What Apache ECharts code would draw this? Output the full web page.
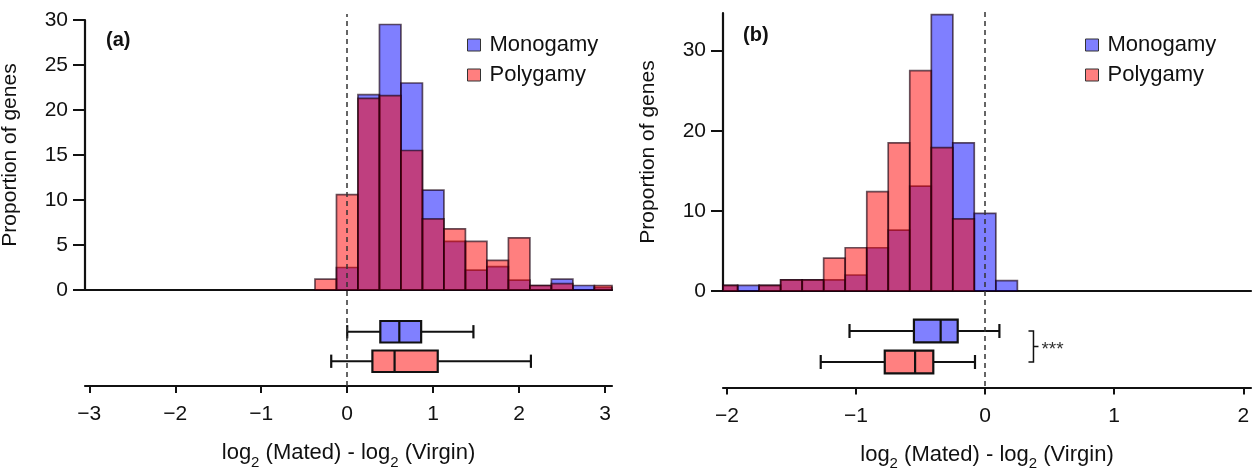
<!DOCTYPE html>
<html>
<head>
<meta charset="utf-8">
<script src="https://cdn.jsdelivr.net/npm/echarts@6/dist/echarts.min.js"></script>
<style>
html, body { margin: 0; padding: 0; background: #fff; }
#chart { width: 1254px; height: 469px; }
</style>
</head>
<body>
<div id="chart"></div>
<script>
// (a) histogram: bin centres (bin width 0.25), % of genes
const binsA = [-0.25, 0, 0.25, 0.5, 0.75, 1.0, 1.25, 1.5, 1.75, 2.0, 2.25, 2.5, 2.75, 3.0]
const monoA = [0, 2.5, 21.7, 29.5, 23.0, 11.1, 5.4, 2.2, 2.6, 1.1, 0.5, 1.2, 0.5, 0.3]
const polyA = [1.2, 10.6, 21.3, 21.6, 15.5, 7.9, 6.8, 5.4, 3.3, 5.8, 0.5, 0.7, 0, 0.5]
const binWidthA = 0.25

// (b) histogram: bin centres (bin width 1/6)
const binsB = [-2.0, -1.833, -1.667, -1.5, -1.333, -1.167, -1.0, -0.833, -0.667, -0.5, -0.333, -0.167, 0, 0.167]
const monoB = [0.7, 0.7, 0.7, 1.4, 1.4, 1.4, 2.0, 5.4, 7.6, 13.1, 34.5, 18.5, 9.7, 1.3]
const polyB = [0.7, 0, 0.7, 1.4, 1.4, 4.1, 5.4, 12.4, 18.5, 27.5, 17.9, 9.0, 0, 0]
const binWidthB = 1 / 6

// box plots: [lower whisker, q1, median, q3, upper whisker]
const boxGroups = ['Polygamy', 'Monogamy']
const boxMonoA = [0.0, 0.385, 0.606, 0.86, 1.468]
const boxPolyA = [-0.186, 0.293, 0.551, 1.053, 2.137]
const boxMonoB = [-1.05, -0.551, -0.344, -0.212, 0.111]
const boxPolyB = [-1.273, -0.777, -0.542, -0.401, -0.078]

const ticksA = [-3, -2, -1, 0, 1, 2, 3]
const ticksB = [-2, -1, 0, 1, 2]

const FONT = '"Liberation Sans", Arial, Helvetica, sans-serif'
const INK = '#111'
const MONO = 'rgba(0, 0, 255, 0.5)'
const POLY = 'rgba(255, 0, 0, 0.5)'

const chart = echarts.init(document.getElementById('chart'))

const histItem = (width) => (params, api) => {
  const x = api.value(0)
  const y = api.value(1)
  if (!y) return null
  const p0 = api.coord([x - width / 2, y])
  const p1 = api.coord([x + width / 2, 0])
  const cs = params.coordSys
  const rect = echarts.graphic.clipRectByRect(
    { x: p0[0], y: p0[1], width: p1[0] - p0[0], height: p1[1] - p0[1] },
    { x: cs.x, y: cs.y, width: cs.width, height: cs.height }
  )
  if (!rect) return null
  return {
    type: 'rect',
    shape: rect,
    style: { fill: api.visual('color'), stroke: 'rgba(25, 0, 15, 0.65)', lineWidth: 1.7 }
  }
}

const boxItem = (params, api) => {
  const cat = api.value(5)
  const band = api.size([0, 1])[1]
  const h = band * 0.73
  const cap = band * 0.45
  const p = [0, 1, 2, 3, 4].map(i => api.coord([api.value(i), cat]))
  const y = p[0][1]
  const ln = { stroke: INK, lineWidth: 2.2 }
  return {
    type: 'group',
    children: [
      { type: 'line', shape: { x1: p[0][0], y1: y, x2: p[1][0], y2: y }, style: ln },
      { type: 'line', shape: { x1: p[3][0], y1: y, x2: p[4][0], y2: y }, style: ln },
      { type: 'line', shape: { x1: p[0][0], y1: y - cap / 2, x2: p[0][0], y2: y + cap / 2 }, style: ln },
      { type: 'line', shape: { x1: p[4][0], y1: y - cap / 2, x2: p[4][0], y2: y + cap / 2 }, style: ln },
      {
        type: 'rect',
        shape: { x: p[1][0], y: y - h / 2, width: p[3][0] - p[1][0], height: h },
        style: { fill: api.visual('color'), stroke: INK, lineWidth: 2.2 }
      },
      { type: 'line', shape: { x1: p[2][0], y1: y - h / 2, x2: p[2][0], y2: y + h / 2 }, style: ln }
    ]
  }
}

// significance bracket between the two boxes of panel (b)
const bracketItem = (params, api) => {
  const top = api.coord([api.value(0), 1])
  const bot = api.coord([api.value(0), 0])
  const x = top[0]
  const mid = (top[1] + bot[1]) / 2
  const ln = { stroke: INK, lineWidth: 1.5, fill: null }
  return {
    type: 'group',
    children: [
      { type: 'polyline', shape: { points: [[x - 5, top[1]], [x, top[1]], [x, bot[1]], [x - 5, bot[1]]] }, style: ln },
      { type: 'line', shape: { x1: x, y1: mid, x2: x + 5, y2: mid }, style: ln },
      {
        type: 'text',
        style: { text: '***', x: x + 8, y: mid + 3, verticalAlign: 'middle', fill: '#333', font: '19px ' + FONT }
      }
    ]
  }
}

const toPairs = (bins, vals) => bins.map((b, i) => [b, vals[i]])
const boxRow = (vals, group) => [...vals, boxGroups.indexOf(group)]
const minus = v => (v < 0 ? '\u2212' + Math.abs(v) : String(v))

const xName = '{n|log}{s|2}{n| (Mated) - log}{s|2}{n| (Virgin)}'
const xNameStyle = {
  color: INK,
  fontFamily: FONT,
  fontSize: 22,
  rich: {
    n: { fontSize: 22, fontFamily: FONT, color: INK, verticalAlign: 'top', lineHeight: 28 },
    s: { fontSize: 15, fontFamily: FONT, color: INK, verticalAlign: 'bottom', lineHeight: 28, padding: [11, 0, 0, 0] }
  }
}

const panels = [
  { left: 85, width: 527, xmin: -3.05, xmax: 3.08, histTop: 20, histH: 270, ymax: 30, yTicks: [0, 5, 10, 15, 20, 25, 30], boxTop: 317, boxH: 59, ticks: ticksA, overlayTop: 14 },
  { left: 723, width: 528, xmin: -2.03, xmax: 2.06, histTop: 13, histH: 278, ymax: 34.7, yTicks: [0, 10, 20, 30], boxTop: 315.5, boxH: 62, ticks: ticksB, overlayTop: 12 }
]

// v6 grids shrink to keep labels inside by default; keep exact placement instead
const gridBase = { containLabel: false, outerBoundsMode: 'none' }

const grid = []
const xAxis = []
const yAxis = []
panels.forEach((p, k) => {
  // histogram grid
  grid.push({ ...gridBase, left: p.left, width: p.width, top: p.histTop, height: p.histH })
  xAxis.push({
    type: 'value', gridIndex: k * 3, min: p.xmin, max: p.xmax,
    axisLine: { show: true, onZero: false, lineStyle: { color: INK, width: 2.2 } },
    axisTick: { show: false }, axisLabel: { show: false }, splitLine: { show: false }
  })
  yAxis.push({
    type: 'value', gridIndex: k * 3, min: 0, max: p.ymax,
    name: 'Proportion of genes', nameLocation: 'middle', nameGap: 64, nameRotate: 90,
    nameTextStyle: { color: INK, fontSize: 21, fontFamily: FONT },
    axisLine: { show: true, onZero: false, lineStyle: { color: INK, width: 2.2 } },
    axisTick: { show: true, length: 12, lineStyle: { color: INK, width: 2 }, customValues: p.yTicks },
    axisLabel: { color: INK, fontSize: 21, fontFamily: FONT, margin: 17, customValues: p.yTicks },
    splitLine: { show: false }
  })
  // box plot grid with the real x axis
  grid.push({ ...gridBase, left: p.left, width: p.width, top: p.boxTop, height: p.boxH })
  xAxis.push({
    type: 'value', gridIndex: k * 3 + 1, min: p.xmin, max: p.xmax, offset: 10,
    name: xName, nameLocation: 'middle', nameGap: 56, nameTextStyle: xNameStyle,
    axisLine: { show: true, onZero: false, lineStyle: { color: INK, width: 2.2 } },
    axisTick: { show: true, length: 7, lineStyle: { color: INK, width: 2 }, customValues: p.ticks },
    axisLabel: { color: INK, fontSize: 21, fontFamily: FONT, margin: 18, customValues: p.ticks, formatter: minus },
    splitLine: { show: false }
  })
  yAxis.push({
    type: 'category', gridIndex: k * 3 + 1, data: boxGroups,
    axisLine: { show: false }, axisTick: { show: false }, axisLabel: { show: false }
  })
  // overlay grid for the dashed zero line
  grid.push({ ...gridBase, left: p.left, width: p.width, top: p.overlayTop, height: 386 - p.overlayTop })
  xAxis.push({ type: 'value', gridIndex: k * 3 + 2, min: p.xmin, max: p.xmax, show: false })
  yAxis.push({ type: 'value', gridIndex: k * 3 + 2, min: 0, max: 1, show: false })
})

const histSeries = (name, color, k, bins, vals, w) => ({
  name, type: 'custom', xAxisIndex: k * 3, yAxisIndex: k * 3,
  itemStyle: { color, borderColor: '#333', borderWidth: 1 },
  renderItem: histItem(w), data: toPairs(bins, vals),
  encode: { x: 0, y: 1 }, silent: true
})

const boxSeries = (name, color, k, vals) => ({
  name, type: 'custom', xAxisIndex: k * 3 + 1, yAxisIndex: k * 3 + 1,
  itemStyle: { color }, renderItem: boxItem,
  data: [boxRow(vals, name)], encode: { x: [0, 1, 2, 3, 4], y: 5 }, silent: true, z: 3
})

const zeroLine = (k) => ({
  type: 'line', xAxisIndex: k * 3 + 2, yAxisIndex: k * 3 + 2,
  data: [[0, 0]], showSymbol: false, silent: true, z: 1,
  lineStyle: { opacity: 0 },
  markLine: {
    silent: true, symbol: 'none', label: { show: false },
    lineStyle: { color: '#333', width: 1.5, type: [5, 4] },
    data: [{ xAxis: 0 }]
  }
})

const series = [
  histSeries('Monogamy', MONO, 0, binsA, monoA, binWidthA),
  histSeries('Polygamy', POLY, 0, binsA, polyA, binWidthA),
  histSeries('Monogamy', MONO, 1, binsB, monoB, binWidthB),
  histSeries('Polygamy', POLY, 1, binsB, polyB, binWidthB),
  boxSeries('Monogamy', '#8080ff', 0, boxMonoA),
  boxSeries('Polygamy', '#ff8080', 0, boxPolyA),
  boxSeries('Monogamy', '#8080ff', 1, boxMonoB),
  boxSeries('Polygamy', '#ff8080', 1, boxPolyB),
  zeroLine(0),
  zeroLine(1),
  {
    type: 'custom', xAxisIndex: 4, yAxisIndex: 4, renderItem: bracketItem,
    data: [[0.375, 0]], encode: { x: 0, y: 1 }, silent: true
  }
]

const legendBase = {
  data: ['Monogamy', 'Polygamy'], orient: 'vertical', icon: 'rect',
  itemWidth: 13, itemHeight: 12, itemGap: 8, selectedMode: false,
  itemStyle: { borderColor: '#333', borderWidth: 1 },
  textStyle: { color: INK, fontSize: 22, fontFamily: FONT, padding: [0, 0, 0, 4] }
}

const option = {
  animation: false,
  backgroundColor: '#fff',
  title: [
    { text: '(a)', left: 106, top: 30, padding: 0, textStyle: { fontSize: 20, fontWeight: 'bold', color: INK, fontFamily: FONT } },
    { text: '(b)', left: 743, top: 25, padding: 0, textStyle: { fontSize: 20, fontWeight: 'bold', color: INK, fontFamily: FONT } }
  ],
  legend: [
    { ...legendBase, left: 462, top: 29 },
    { ...legendBase, left: 1080, top: 29 }
  ],
  grid,
  xAxis,
  yAxis,
  series
}

chart.setOption(option)
window.addEventListener('resize', () => chart.resize())
</script>
</body>
</html>
